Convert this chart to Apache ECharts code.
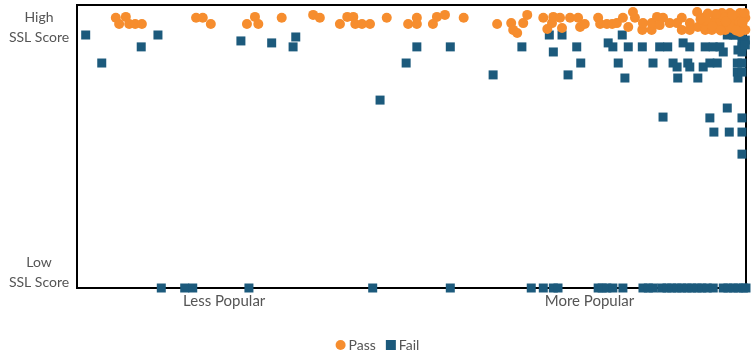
<!DOCTYPE html>
<html>
<head>
<meta charset="utf-8">
<script src="https://cdn.jsdelivr.net/npm/echarts@6/dist/echarts.min.js"></script>
<style>html,body{margin:0;padding:0;background:#fff}#c{width:755px;height:357px}</style>
</head>
<body>
<div id="c"></div>
<script>
// x: popularity (0 = least, 100 = most), y: SSL score (0 = low, 100 = high)
const seriesNames = ['Pass', 'Fail'];
const xTickValues = [22, 76.6];
const xTickLabels = ['Less Popular', 'More Popular'];
const yTickValues = [5.5, 92];
const yTickLabels = ['Low\nSSL Score', 'High\nSSL Score'];

const passPoints = [
  [5.8,95.5],[7.3,95.8],[6.3,93.3],[7.8,93.3],[8.7,93.3],[9.7,93.3],
  [17.8,95.5],[18.8,95.5],[20.0,93.3],[25.4,93.3],[26.6,95.8],[27.1,93.3],
  [30.6,95.5],[35.3,96.5],[36.3,95.5],[39.3,93.3],[40.4,95.8],[41.3,95.8],
  [41.6,93.3],[42.6,93.3],[43.8,93.3],[46.3,95.5],[49.5,93.3],[50.8,95.5],
  [50.8,93.3],[53.2,93.3],[53.8,95.8],[55.0,96.5],[57.8,95.5],[62.8,93.3],
  [64.9,93.6],[65.2,91.2],[65.8,90.1],[66.7,93.6],[67.3,96.5],[69.7,95.5],
  [70.3,91.5],[71.0,93.6],[71.2,95.8],[72.2,95.5],[72.5,91.9],[73.7,95.5],
  [74.9,95.5],[75.2,92.2],[75.9,93.3],[77.9,95.5],[78.2,93.3],[79.2,93.3],
  [80.0,93.3],[80.7,93.6],[81.6,95.5],[83.1,97.5],[83.4,95.5],[84.5,91.2],
  [84.6,93.6],[85.9,91.2],[85.9,93.6],[86.7,95.8],[87.6,95.5],[88.6,93.6],
  [89.7,93.6],[90.4,91.2],[90.4,95.5],[91.6,93.6],[92.7,97.5],[92.8,92.2],
  [93.6,93.6],[94.6,93.6],[95.7,94.7],[96.4,97.2],[97.2,93.6],[97.6,97.2],
  [98.4,95.8],[99.1,97.2],[99.4,92.9],[99.6,95.5],[93.9,91.2],[94.9,91.2],
  [95.8,91.9],[96.9,91.2],[97.9,91.9],[98.8,92.9],[99.9,91.2],[95.4,95.8],
  [93.9,95.8],[96.1,93.6],[98.1,93.6],[99.9,95.5],[99.1,90.5],[82.4,92.2],
  [87.1,92.9],[91.6,91.2],[94.0,94.5],[96.8,95.5],[98.5,94.2],[99.8,97.2],
  [95.0,92.5],[97.5,92.5],[99.0,94.0],[93.2,95.0],[95.5,96.8],[97.0,94.2],
  [98.0,96.5],[99.5,93.8],[94.3,97.0],[96.2,91.0],[98.5,91.0]
];

const failPoints = [
  [1.3,89.4],[3.7,79.5],[9.6,85.2],[12.1,89.4],[24.5,87.3],[29.1,86.6],
  [32.3,85.2],[32.7,88.7],[45.3,66.4],[49.2,79.5],[50.8,85.2],[55.8,85.2],
  [62.2,75.3],[66.5,85.2],[70.6,89.4],[71.2,83.4],[72.5,89.4],[73.4,75.3],
  [74.7,85.2],[75.3,79.5],[79.4,86.6],[80.1,85.2],[80.9,79.5],[81.5,89.4],
  [82.4,85.2],[81.9,74.2],[84.5,85.2],[86.1,79.5],[87.1,85.2],[88.3,85.2],
  [89.1,79.5],[89.7,78.1],[89.8,74.2],[90.6,86.6],[91.3,79.5],[91.6,85.2],
  [91.6,78.1],[92.8,74.2],[93.9,85.2],[93.6,78.1],[94.6,79.5],[95.1,85.2],
  [95.7,79.5],[96.1,85.2],[96.6,83.4],[97.2,89.4],[98.1,89.4],[98.4,89.4],
  [98.8,84.1],[99.4,89.4],[99.4,86.6],[99.4,85.2],[99.4,83.4],[98.7,79.5],
  [99.4,79.5],[98.7,76.3],[98.8,74.2],[99.4,76.3],[97.2,63.6],[87.6,60.4],
  [94.6,60.1],[99.4,60.1],[95.2,55.1],[97.5,55.1],[99.4,55.1],[99.4,47.3],
  [99.9,87.6],[99.9,85.9],
  [12.6,0],[16.1,0],[17.3,0],[25.7,0],[44.2,0],[55.8,0],[67.9,0],[69.7,0],
  [71.2,0],[71.9,0],[77.9,0],[78.5,0],[79.2,0],[80.1,0],[81.6,0],[84.6,0],
  [85.4,0],[86.1,0],[87.4,0],[88.2,0],[88.9,0],[89.7,0],[90.4,0],[91.2,0],
  [91.9,0],[92.7,0],[93.4,0],[94.2,0],[95.1,0],[96.6,0],[97.3,0],[98.1,0],
  [98.8,0],[99.6,0],[100,0]
];

const PASS_COLOR = '#F68D2E';
const FAIL_COLOR = '#1C5A7C';
const TEXT_COLOR = '#555555';
const FONT = 'Lato, "Open Sans", sans-serif';

const chart = echarts.init(document.getElementById('c'), null, {renderer: 'canvas'});
chart.setOption({
  animation: false,
  textStyle: {fontFamily: FONT},
  grid: {left: 77, right: 9, top: 5, bottom: 69, show: true, borderColor: '#000', borderWidth: 2, backgroundColor: 'transparent'},
  xAxis: {
    type: 'value', min: 0, max: 100,
    axisLine: {show: true, lineStyle: {color: '#000', width: 2}},
    axisTick: {show: false},
    splitLine: {show: false},
    axisLabel: {
      customValues: xTickValues,
      formatter: v => xTickLabels[xTickValues.indexOf(v)] || '',
      color: TEXT_COLOR, fontSize: 15, fontFamily: FONT, margin: 6
    }
  },
  yAxis: {
    type: 'value', min: 0, max: 100,
    axisLine: {show: true, lineStyle: {color: '#000', width: 2}},
    axisTick: {show: false},
    splitLine: {show: false},
    axisLabel: {
      customValues: yTickValues,
      formatter: v => yTickLabels[yTickValues.indexOf(v)] || '',
      color: TEXT_COLOR, fontSize: 14, fontFamily: FONT, lineHeight: 20,
      align: 'center', margin: 38
    }
  },
  legend: {
    data: seriesNames,
    bottom: 0, left: 'center',
    itemWidth: 10, itemHeight: 10, itemGap: 10,
    textStyle: {color: TEXT_COLOR, fontSize: 14, fontFamily: FONT, padding: [0,0,0,-2]}
  },
  series: [
    {
      name: 'Fail', type: 'scatter', symbol: 'rect', symbolSize: 9,
      itemStyle: {color: FAIL_COLOR, opacity: 1}, clip: false, z: 2,
      data: failPoints
    },
    {
      name: 'Pass', type: 'scatter', symbol: 'circle', symbolSize: 10,
      itemStyle: {color: PASS_COLOR, opacity: 1}, clip: false, z: 3,
      data: passPoints
    }
  ]
});
</script>
</body>
</html>
